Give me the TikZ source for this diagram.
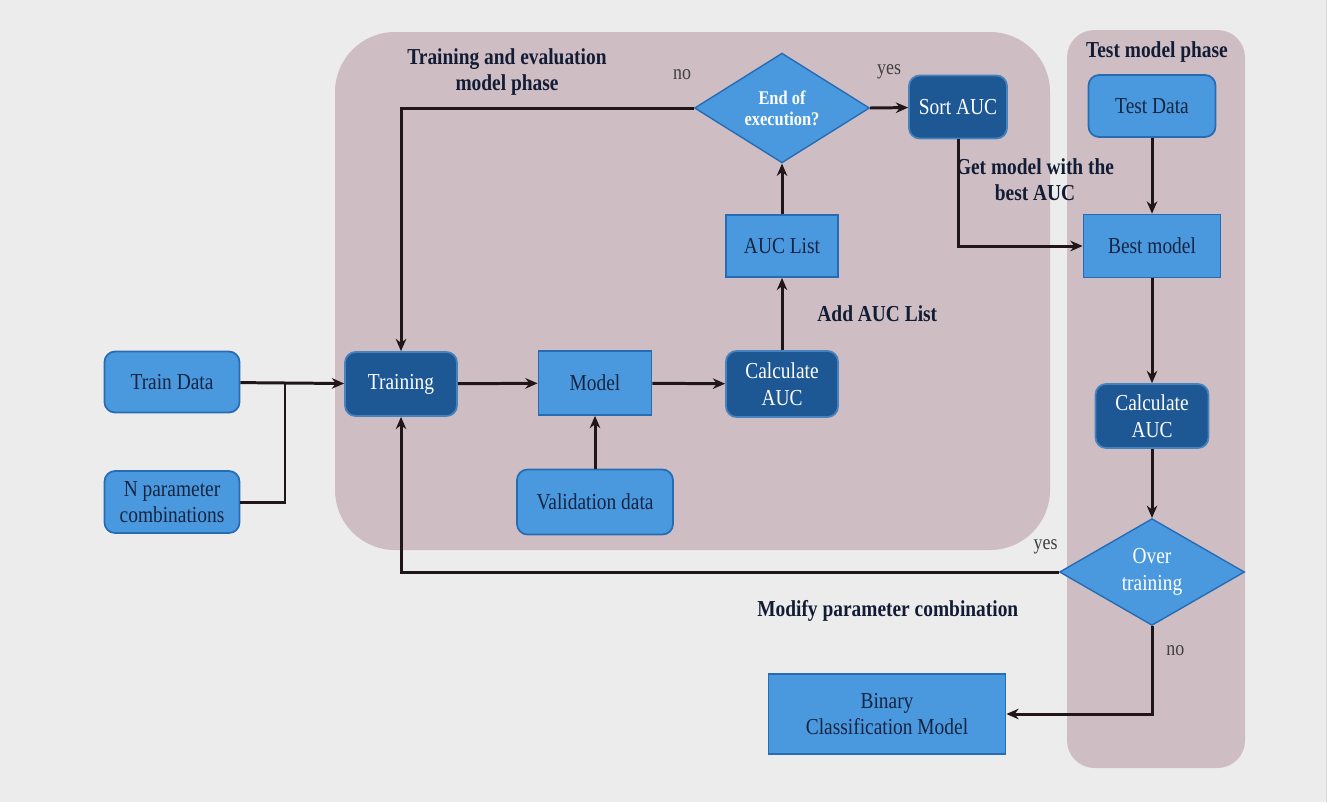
\documentclass[tikz,border=0pt]{standalone}
\usepackage{fontspec}
\setmainfont[FakeStretch=0.85]{Liberation Serif}
\usepackage{tikz}
\usetikzlibrary{shapes.geometric, arrows.meta, positioning, calc}
\definecolor{flowbg}{RGB}{236,236,236}
\definecolor{phasefill}{RGB}{207,189,196}
\definecolor{boxlight}{RGB}{74,153,222}
\definecolor{boxlightborder}{RGB}{38,108,180}
\definecolor{boxdark}{RGB}{30,88,148}
\definecolor{boxdarkborder}{RGB}{70,130,190}
\definecolor{textnavy}{RGB}{22,36,66}
\definecolor{linedark}{RGB}{32,22,26}

\begin{document}
\begin{tikzpicture}[
  x=0.02cm, y=-0.02cm,
  lightbox/.style={rectangle, rounded corners=6pt, draw=boxlightborder, fill=boxlight,
              line width=1pt, align=center, text=textnavy, inner sep=2pt,
              font=\fontsize{13}{15}\selectfont},
  squarebox/.style={lightbox, rounded corners=0pt},
  darkbox/.style={lightbox, draw=boxdarkborder, fill=boxdark, text=white},
  decision/.style={diamond, draw=boxlightborder, fill=boxlight, line width=0.8pt,
              inner sep=0pt, align=center, text=white},
  phaselabel/.style={align=center, text=textnavy!80!black,
              font=\fontsize{13}{15}\selectfont\bfseries},
  flowlabel/.style={text=black!75, font=\fontsize{12}{14}\selectfont},
  arrow/.style={-{Stealth[length=7pt, width=6pt]}, line width=1.7pt, color=linedark},
  line/.style={line width=1.7pt, color=linedark},
]
  % background and phase areas
  \useasboundingbox (0,0) rectangle (1334,802);
  \fill[white] (0,0) rectangle (1334,802);
  \fill[flowbg] (0,0) rectangle (1326,802);
  \draw[black!15] (1326,0) -- (1326,802);
  \fill[phasefill] (335,32) [rounded corners=1.2cm] rectangle (1050,550);
  \fill[phasefill] (1067,30) [rounded corners=0.55cm] rectangle (1245,768);
  \node[phaselabel] (trainphase) at (507,72) {Training and evaluation\\model phase};
  \node[phaselabel] (testphase) at (1157,52) {Test model phase};

  % nodes
  \node[lightbox, minimum width=2.7cm, minimum height=1.22cm] (train) at (172,382) {Train Data};
  \node[lightbox, minimum width=2.7cm, minimum height=1.24cm] (nparam) at (172,502) {N parameter\\combinations};
  \node[darkbox, minimum width=2.24cm, minimum height=1.28cm] (training) at (401,384) {Training};
  \node[squarebox, minimum width=2.26cm, minimum height=1.28cm] (model) at (595,383) {Model};
  \node[darkbox, minimum width=2.24cm, minimum height=1.32cm] (calcauc) at (782,384) {Calculate\\AUC};
  \node[lightbox, minimum width=3.12cm, minimum height=1.3cm] (valid) at (595,502) {Validation data};
  \node[squarebox, minimum width=2.24cm, minimum height=1.24cm] (auclist) at (782,246) {AUC List};
  \node[decision, minimum width=3.5cm, minimum height=1.72cm,
        font=\fontsize{11}{12}\selectfont\bfseries] (enddec) at (782,108) {End of\\execution?};
  \node[darkbox, minimum width=1.96cm, minimum height=1.26cm] (sortauc) at (958,107) {Sort AUC};
  \node[lightbox, minimum width=2.54cm, minimum height=1.24cm] (testdata) at (1152,106) {Test Data};
  \node[squarebox, minimum width=2.74cm, minimum height=1.26cm] (best) at (1152,246) {Best model};
  \node[darkbox, minimum width=2.26cm, minimum height=1.28cm] (calcauctest) at (1152,416) {Calculate\\AUC};
  \node[decision, minimum width=3.7cm, minimum height=1.9cm,
        font=\fontsize{13}{15}\selectfont] (overdec) at (1152,572) {Over\\training};
  \node[squarebox, minimum width=4.74cm, minimum height=1.6cm] (binary) at (887,714) {Binary\\Classification Model};
  \node[phaselabel] (getlbl) at (1035,180) {Get model with the\\best AUC};
  \coordinate (join) at (285,382);

  % connectors
  \draw[arrow] (train) -- (training);
  \draw[line] (nparam.east) -| (join);
  \draw[arrow] (training) -- (model);
  \draw[arrow] (model) -- (calcauc);
  \draw[arrow] (valid) -- (model);
  \draw[arrow] (calcauc) -- node[phaselabel, right=16pt]{Add AUC List} (auclist);
  \draw[arrow] (auclist) -- (enddec);
  \draw[arrow] (enddec.west) -| node[flowlabel, pos=0.02, above=12pt]{no} (training.north);
  \draw[arrow] (enddec.east) -- node[flowlabel, above=12pt]{yes} (sortauc);
  \draw[arrow] (sortauc.south) |- (best.west);
  \draw[arrow] (testdata) -- (best);
  \draw[arrow] (best) -- (calcauctest);
  \draw[arrow] (calcauctest) -- (overdec);
  \draw[arrow] (overdec.west) -| node[flowlabel, pos=0.01, above=6pt]{yes}
        node[phaselabel, pos=0.13, below=12pt]{Modify parameter combination} (training.south);
  \draw[arrow] (overdec.south) |- node[flowlabel, pos=0.14, right=4pt]{no} (binary.east);
\end{tikzpicture}
\end{document}
